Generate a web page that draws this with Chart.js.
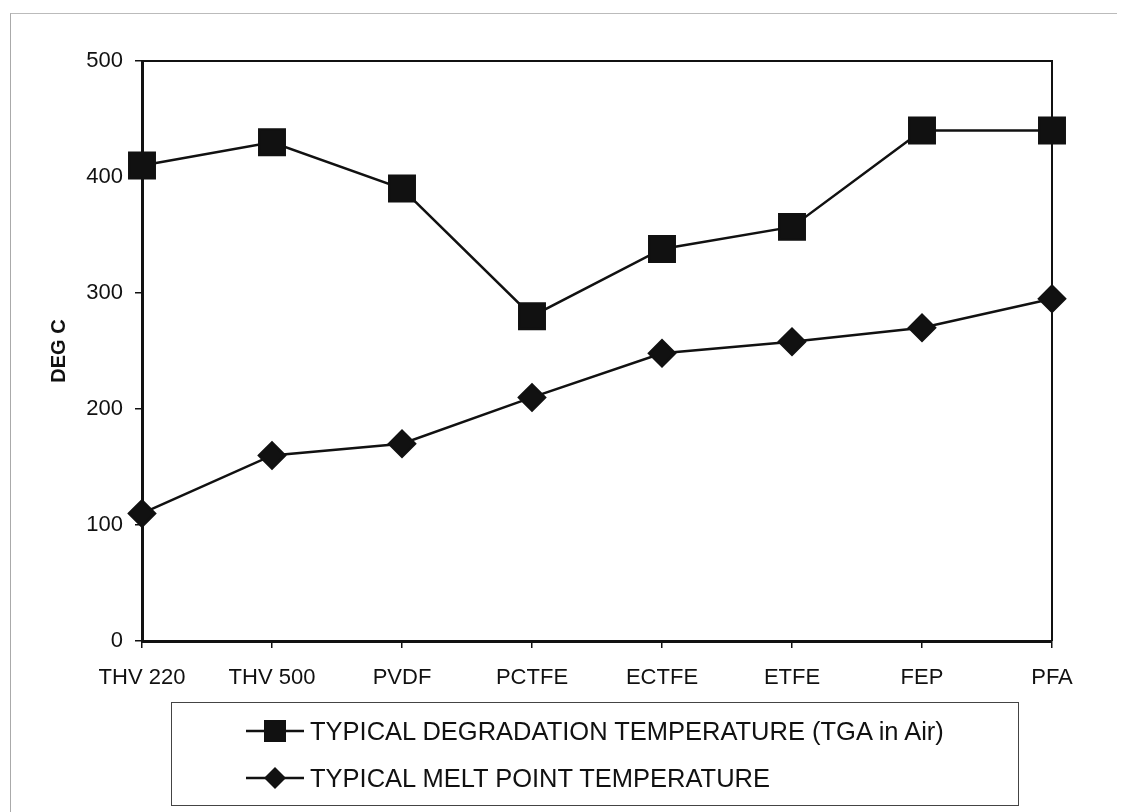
<!DOCTYPE html>
<html>
<head>
<meta charset="utf-8">
<script src="https://cdn.jsdelivr.net/npm/chart.js@4.4.0/dist/chart.umd.min.js"></script>
<style>
  html, body { margin: 0; padding: 0; background: #fff; }
  #wrap { position: relative; width: 1124px; height: 812px; overflow: hidden; }
  #frame { position: absolute; left: 10px; top: 13px; width: 1106px; height: 800px; border-left: 1px solid #aaa; border-top: 1px solid #bbb; }
  #chartBox { position: absolute; left: 0; top: 0; width: 1124px; height: 812px; }
  #legend { position: absolute; left: 171px; top: 702px; width: 846px; height: 102px; border: 1px solid #444;
            font-family: "Liberation Sans", Arial, sans-serif; font-size: 25.5px; color: #111; }
  .row { position: absolute; left: 74px; height: 30px; display: flex; align-items: center; white-space: nowrap; }
  .row svg { margin-right: 6px; }
</style>
</head>
<body>
<div id="wrap">
  <div id="frame"></div>
  <div id="chartBox"><canvas id="resultsChart"></canvas></div>
  <div id="legend"></div>
</div>
<script>
const labels = ['THV 220', 'THV 500', 'PVDF', 'PCTFE', 'ECTFE', 'ETFE', 'FEP', 'PFA'];
const degradation = [410, 430, 390, 280, 338, 357, 440, 440];
const meltPoint = [110, 160, 170, 210, 248, 258, 270, 295];
const seriesNames = ['TYPICAL DEGRADATION TEMPERATURE (TGA in Air)', 'TYPICAL MELT POINT TEMPERATURE'];
const yTicks = [0, 100, 200, 300, 400, 500];

// frame round the plot area (top and right sides)
const plotFrame = {
    id: 'plotFrame',
    afterDraw(chart) {
        const a = chart.chartArea;
        const c = chart.ctx;
        c.save();
        c.strokeStyle = '#111';
        c.lineWidth = 2;
        c.beginPath();
        c.moveTo(a.left, a.top);
        c.lineTo(a.right, a.top);
        c.lineTo(a.right, a.bottom);
        c.stroke();
        c.restore();
    }
};

const tickFont = { family: 'Liberation Sans', size: 22 };

const ctx = document.getElementById('resultsChart');
const myChart = new Chart(ctx, {
    type: 'line',
    data: {
        labels: labels,
        datasets: [{
            label: seriesNames[0],
            data: degradation,
            borderColor: '#111',
            backgroundColor: '#111',
            borderWidth: 2.5,
            pointStyle: 'rect',
            pointRadius: 18,
            pointHoverRadius: 18,
            tension: 0,
            clip: false,
        }, {
            label: seriesNames[1],
            data: meltPoint,
            borderColor: '#111',
            backgroundColor: '#111',
            borderWidth: 2.5,
            pointStyle: 'rectRot',
            pointRadius: 13,
            pointHoverRadius: 13,
            tension: 0,
            clip: false,
        }]
    },
    options: {
        responsive: true,
        maintainAspectRatio: false,
        animation: false,
        events: [],
        layout: { padding: { left: 47, top: 61, right: 72, bottom: 111 } },
        plugins: {
            legend: { display: false },
            tooltip: { enabled: false },
        },
        scales: {
            x: {
                offset: false,
                grid: { display: true, drawOnChartArea: false, drawTicks: true, tickLength: 7, color: '#111', lineWidth: 1.5 },
                border: { display: true, color: '#111', width: 3 },
                ticks: { color: '#111', font: tickFont, padding: 17, maxRotation: 0, autoSkip: false },
                afterFit(scale) { scale.height = 60; },
            },
            y: {
                min: 0,
                max: 500,
                afterBuildTicks(scale) { scale.ticks = yTicks.map(v => ({ value: v })); },
                grid: { display: true, drawOnChartArea: false, drawTicks: true, tickLength: 7, color: '#111', lineWidth: 1.5 },
                border: { display: true, color: '#111', width: 3 },
                ticks: { color: '#111', font: tickFont, padding: 12 },
                title: { display: true, text: 'DEG C', color: '#111', font: { family: 'Liberation Sans', size: 20, weight: 'bold' }, padding: 0 },
                afterFit(scale) { scale.width = 95; },
            }
        }
    },
    plugins: [plotFrame]
});

// legend box with line + marker samples
const legendEl = document.getElementById('legend');
const icons = [
    '<svg width="58" height="24"><line x1="0" y1="12" x2="58" y2="12" stroke="#111" stroke-width="2.5"/><rect x="18" y="1" width="22" height="22" fill="#111"/></svg>',
    '<svg width="58" height="24"><line x1="0" y1="12" x2="58" y2="12" stroke="#111" stroke-width="2.5"/><polygon points="29,1 40,12 29,23 18,12" fill="#111"/></svg>'
];
const rowTops = [13, 60];
seriesNames.forEach((name, i) => {
    const row = document.createElement('div');
    row.className = 'row';
    row.style.top = rowTops[i] + 'px';
    row.innerHTML = icons[i] + '<span>' + name + '</span>';
    legendEl.appendChild(row);
});
</script>
</body>
</html>
